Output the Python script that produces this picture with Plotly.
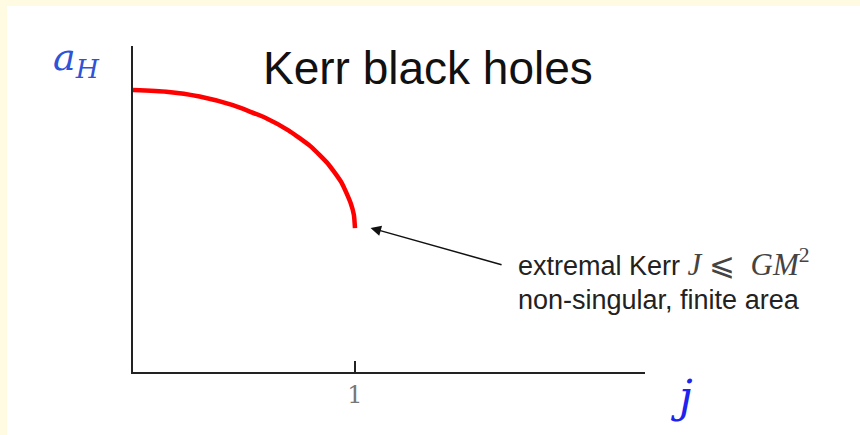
import plotly.graph_objects as go

# Horizon area of Kerr black holes vs. dimensionless spin j
spin_j = [0.0, 0.15, 0.30, 0.45, 0.60, 0.70, 0.80, 0.88, 0.94, 0.98, 0.995, 1.00]
area_aH = [1.00, 0.994, 0.977, 0.946, 0.90, 0.857, 0.80, 0.737, 0.671, 0.60, 0.557, 0.51]

x_ticks = [1]
x_tick_labels = ["1"]

W, H = 860, 435
ML, MR, MT, MB = 133, 215, 46, 63
PW, PH = W - ML - MR, H - MT - MB
PX_PER_J = 222.0
PX_PER_A = 282.0
x_max = PW / PX_PER_J
y_max = PH / PX_PER_A


def px_x(px):
    return (px - ML) / PW


def px_y(py):
    return (H - MB - py) / PH


fig = go.Figure()
fig.add_trace(go.Scatter(
    x=spin_j, y=area_aH, mode="lines",
    line=dict(color="#ff0000", width=4.5, shape="spline", smoothing=0.5),
    hoverinfo="skip", showlegend=False,
))

serif = "DejaVu Serif, Liberation Serif, serif"
sans = "Liberation Sans, Arial, sans-serif"


def label(px, py, text, font, xanchor="center"):
    return dict(x=px_x(px), y=px_y(py), xref="paper", yref="paper",
                xanchor=xanchor, yanchor="middle", text=text,
                showarrow=False, font=font)


math = ("<span style=\"font-family:'Liberation Serif', serif;"
        "font-size:31px;color:#444444\">{}</span>")

annotations = [
    # title
    label(428, 68, "Kerr black holes", dict(family=sans, size=46, color="#111111")),
    # axis symbols
    label(76, 60, "<i>a</i><sub><i>H</i></sub>",
          dict(family=serif, size=38, color="#2f52d6")),
    label(681, 396, "<i>j</i>", dict(family=serif, size=44, color="#2222ee")),
    # arrow pointing to the extremal end
    dict(x=1.07, y=0.511, xref="x", yref="y", ax=1.667, ay=0.379,
         axref="x", ayref="y", text="", showarrow=True,
         arrowhead=2, arrowsize=1.4, arrowwidth=1.5, arrowcolor="#111111"),
    label(516, 262, "extremal Kerr " + math.format("<i>J</i> ⩽  <i>GM</i><sup>2</sup>"),
          dict(family=sans, size=27, color="#222222"), xanchor="left"),
    label(516, 300, "non-singular, finite area",
          dict(family=sans, size=27, color="#222222"), xanchor="left"),
]

shapes = [
    # cream frame strips along the top and left edges
    dict(type="rect", xref="paper", yref="paper",
         x0=px_x(0) - 0.01, x1=px_x(W) + 0.01,
         y0=px_y(6), y1=px_y(0) + 0.01,
         fillcolor="#fffbe3", line=dict(width=0), layer="below"),
    dict(type="rect", xref="paper", yref="paper",
         x0=px_x(0) - 0.01, x1=px_x(7),
         y0=px_y(H) - 0.01, y1=px_y(0) + 0.01,
         fillcolor="#fffbe3", line=dict(width=0), layer="below"),
]

fig.update_layout(
    width=W, height=H,
    margin=dict(l=ML, r=MR, t=MT, b=MB),
    paper_bgcolor="white", plot_bgcolor="white",
    annotations=annotations, shapes=shapes,
    xaxis=dict(range=[0, x_max], showgrid=False, zeroline=False,
               showline=True, linecolor="#222222", linewidth=1.5,
               tickvals=x_ticks, ticktext=x_tick_labels,
               ticks="inside", ticklen=11, tickwidth=1.5, tickcolor="#222222",
               tickfont=dict(family=serif, size=24, color="#777777")),
    yaxis=dict(range=[0, y_max], showgrid=False, zeroline=False,
               showline=True, linecolor="#222222", linewidth=1.5,
               showticklabels=False, ticks=""),
)

fig.write_html("out.html")
